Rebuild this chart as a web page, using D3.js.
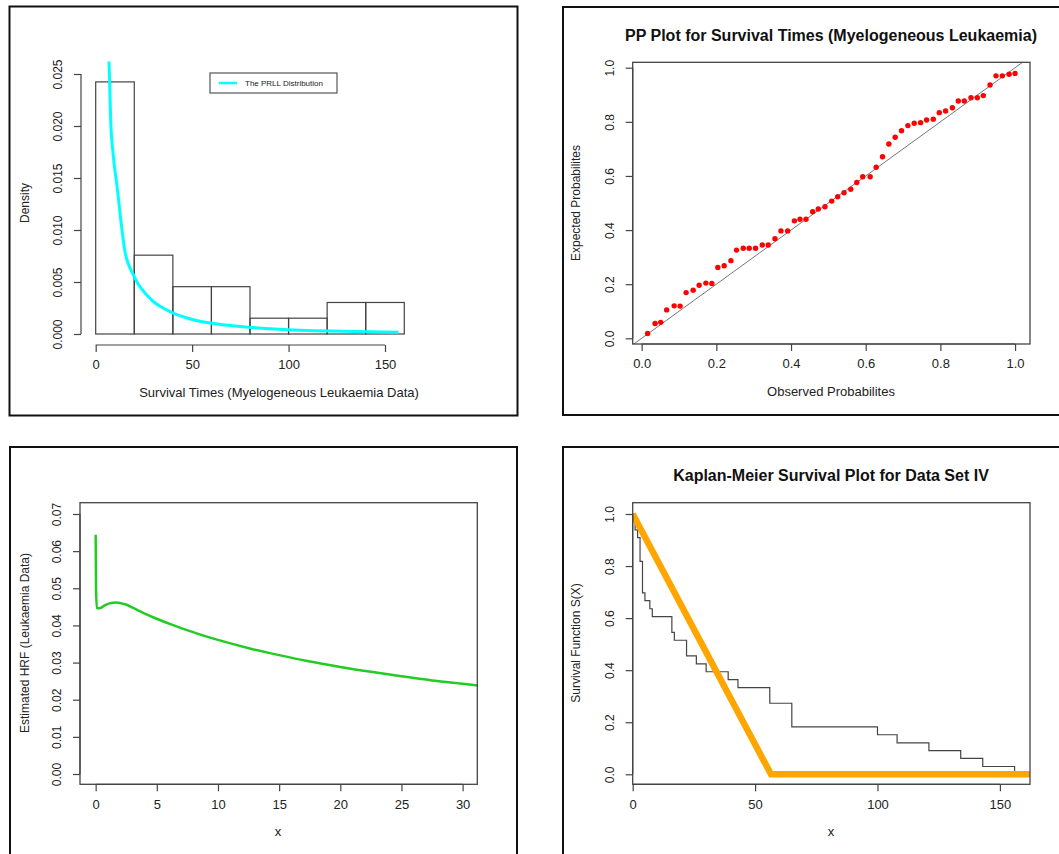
<!DOCTYPE html>
<html>
<head>
<meta charset="utf-8">
<script src="https://cdn.jsdelivr.net/npm/d3@7"></script>
<style>
  body { margin: 0; background: #fff; }
  svg { display: block; font-family: "Liberation Sans", Arial, sans-serif; }
  .tick text { fill: #222; }
</style>
</head>
<body>
<svg id="chart" width="1059" height="854"></svg>
<script>
// Panel 1: histogram of survival times with fitted PRLL density
const histBreaks = [0, 20, 40, 60, 80, 100, 120, 140, 160];
const histDensity = [0.02424, 0.00758, 0.00455, 0.00455, 0.00152, 0.00152, 0.00303, 0.00303];
const prllX = [6.9, 7.8, 9.1, 11.2, 13.5, 15.2, 17, 19.5, 22, 26.5, 30, 35, 40.2, 50, 61, 75, 90, 100, 115, 134, 157];
const prllY = [0.0262, 0.0204, 0.0172, 0.0140, 0.0102, 0.0079, 0.0067, 0.0057, 0.0048, 0.00375, 0.0031, 0.0025, 0.0020, 0.0014, 0.00100, 0.00072, 0.00050, 0.00040, 0.00031, 0.00024, 0.00018];
const histXTicks = [0, 50, 100, 150];
const histYTicks = [0, 0.005, 0.010, 0.015, 0.020, 0.025];

// Panel 2: PP plot
const ppObs = [0.016, 0.036, 0.051, 0.067, 0.087, 0.103, 0.119, 0.138, 0.154, 0.172, 0.188, 0.204, 0.221, 0.239, 0.254,
  0.272, 0.288, 0.305, 0.323, 0.339, 0.357, 0.373, 0.391, 0.409, 0.424, 0.440, 0.458, 0.473, 0.491, 0.509,
  0.525, 0.542, 0.560, 0.576, 0.592, 0.612, 0.628, 0.645, 0.662, 0.679, 0.696, 0.713, 0.730, 0.747, 0.763,
  0.781, 0.797, 0.814, 0.832, 0.848, 0.864, 0.882, 0.899, 0.915, 0.933, 0.949, 0.966, 0.984, 1.000];
const ppExp = [0.018, 0.055, 0.059, 0.105, 0.120, 0.119, 0.169, 0.178, 0.196, 0.204, 0.203, 0.262, 0.268, 0.287, 0.326,
  0.333, 0.333, 0.333, 0.345, 0.345, 0.368, 0.397, 0.397, 0.434, 0.440, 0.440, 0.468, 0.478, 0.486, 0.507,
  0.523, 0.538, 0.551, 0.576, 0.597, 0.597, 0.632, 0.671, 0.718, 0.743, 0.767, 0.786, 0.795, 0.797, 0.807,
  0.810, 0.834, 0.840, 0.852, 0.877, 0.877, 0.889, 0.889, 0.897, 0.936, 0.970, 0.970, 0.976, 0.979];
const ppTicks = [0, 0.2, 0.4, 0.6, 0.8, 1.0];

// Panel 3: estimated hazard rate function
const hrfX = [0, 0.01, 0.03, 0.1, 0.3, 0.7, 1.2, 1.7, 2.4, 3.5, 4.7, 6, 7.4, 8.7, 10, 12.6, 15, 17.3, 20, 22.5, 25, 27.5, 30, 31.5];
const hrfY = [0.0644, 0.0596, 0.0500, 0.0447, 0.0446, 0.0453, 0.0460, 0.0462, 0.0457, 0.0440, 0.0422, 0.0405, 0.0388,
  0.0374, 0.0361, 0.0338, 0.0320, 0.0304, 0.0288, 0.0275, 0.0263, 0.0252, 0.0243, 0.0237];
const hrfXTicks = [0, 5, 10, 15, 20, 25, 30];
const hrfYTicks = [0, 0.01, 0.02, 0.03, 0.04, 0.05, 0.06, 0.07];

// Panel 4: Kaplan-Meier estimate and fitted survival line
const kmTime = [0, 1, 2, 3, 4, 5, 7, 8, 16, 17, 22, 26, 30, 39, 43, 56, 65, 100, 108, 121, 134, 143, 156];
const kmSurv = [1, 0.939, 0.909, 0.818, 0.697, 0.667, 0.636, 0.606, 0.545, 0.515, 0.455, 0.424, 0.394, 0.364, 0.333,
  0.273, 0.182, 0.152, 0.121, 0.091, 0.061, 0.030, 0];
const fitTime = [0, 56.5, 162.3];
const fitSurv = [1, 0, 0];
const kmXTicks = [0, 50, 100, 150];
const kmYTicks = [0, 0.2, 0.4, 0.6, 0.8, 1.0];

const svg = d3.select('#chart');
const axisColor = '#444';

// Panel frames
const frames = [
    { x: 9.5, y: 6.5, w: 508, h: 409 },
    { x: 563, y: 7, w: 510, h: 408 },
    { x: 10, y: 447, w: 507, h: 420 },
    { x: 563, y: 447, w: 510, h: 420 }
];
svg.selectAll('.frame')
    .data(frames)
    .enter()
    .append('rect')
    .attr('class', 'frame')
    .attr('x', d => d.x)
    .attr('y', d => d.y)
    .attr('width', d => d.w)
    .attr('height', d => d.h)
    .attr('fill', 'none')
    .attr('stroke', '#111')
    .attr('stroke-width', 2);

// R-style bottom axis: line spans first..last tick
function bottomAxis(x, ticks, yPos, fmt) {
    const g = svg.append('g')
        .attr('transform', `translate(0, ${yPos})`)
        .call(d3.axisBottom(x).tickValues(ticks).tickSize(7).tickSizeOuter(0).tickPadding(8).tickFormat(fmt));
    g.select('.domain').attr('d', `M${x(ticks[0])},0H${x(ticks[ticks.length - 1])}`);
    g.selectAll('line, .domain').attr('stroke', axisColor).attr('stroke-width', 1.2);
    g.selectAll('text').attr('font-size', '13px');
    return g;
}

// R-style left axis with labels parallel to the axis
function leftAxis(y, ticks, xPos, fmt) {
    const g = svg.append('g')
        .attr('transform', `translate(${xPos}, 0)`)
        .call(d3.axisLeft(y).tickValues(ticks).tickSize(7).tickSizeOuter(0).tickFormat(fmt));
    g.select('.domain').attr('d', `M0,${y(ticks[0])}V${y(ticks[ticks.length - 1])}`);
    g.selectAll('line, .domain').attr('stroke', axisColor).attr('stroke-width', 1.2);
    g.selectAll('text')
        .attr('x', null)
        .attr('dy', null)
        .attr('text-anchor', 'middle')
        .attr('font-size', '12px')
        .attr('transform', 'translate(-19, 0) rotate(-90)');
    return g;
}

function xTitle(text, cx, cy) {
    svg.append('text')
        .attr('x', cx)
        .attr('y', cy)
        .attr('text-anchor', 'middle')
        .attr('font-size', '13px')
        .attr('fill', '#222')
        .text(text);
}

function yTitle(text, cx, cy) {
    svg.append('text')
        .attr('transform', `translate(${cx}, ${cy}) rotate(-90)`)
        .attr('text-anchor', 'middle')
        .attr('font-size', '12px')
        .attr('fill', '#222')
        .text(text);
}

function mainTitle(text, cx, cy) {
    svg.append('text')
        .attr('x', cx)
        .attr('y', cy)
        .attr('text-anchor', 'middle')
        .attr('font-size', '16px')
        .attr('font-weight', 'bold')
        .attr('fill', '#111')
        .text(text);
}

function plotBox(x0, y0, x1, y1) {
    svg.append('rect')
        .attr('x', x0)
        .attr('y', y0)
        .attr('width', x1 - x0)
        .attr('height', y1 - y0)
        .attr('fill', 'none')
        .attr('stroke', axisColor)
        .attr('stroke-width', 1.3);
}

function clip(id, x0, y0, x1, y1) {
    svg.append('clipPath').attr('id', id)
        .append('rect')
        .attr('x', x0).attr('y', y0)
        .attr('width', x1 - x0).attr('height', y1 - y0);
    return `url(#${id})`;
}

// ---------- Panel 1: histogram ----------
{
    const x = d3.scaleLinear().domain([0, 150]).range([95.7, 385]);
    const y = d3.scaleLinear().domain([0, 0.025]).range([334, 74]);

    const bins = histDensity.map((d, i) => ({ x0: histBreaks[i], x1: histBreaks[i + 1], density: d }));
    svg.selectAll('.hist-bar')
        .data(bins)
        .enter()
        .append('rect')
        .attr('class', 'hist-bar')
        .attr('x', d => x(d.x0))
        .attr('y', d => y(d.density))
        .attr('width', d => x(d.x1) - x(d.x0))
        .attr('height', d => y(0) - y(d.density))
        .attr('fill', 'none')
        .attr('stroke', axisColor)
        .attr('stroke-width', 1.2);

    const line = d3.line()
        .x((d, i) => x(prllX[i]))
        .y(d => y(d))
        .curve(d3.curveMonotoneX);
    svg.append('path')
        .attr('d', line(prllY))
        .attr('fill', 'none')
        .attr('stroke', '#00ffff')
        .attr('stroke-width', 3);

    bottomAxis(x, histXTicks, 345, d3.format('d'));
    leftAxis(y, histYTicks, 81, d3.format('.3f'));
    xTitle('Survival Times (Myelogeneous Leukaemia Data)', 279, 397);
    yTitle('Density', 29, 203);

    // Legend
    const legend = svg.append('g').attr('transform', 'translate(210, 73)');
    legend.append('rect')
        .attr('width', 127)
        .attr('height', 20)
        .attr('fill', '#fff')
        .attr('stroke', '#555')
        .attr('stroke-width', 1.2);
    legend.append('line')
        .attr('x1', 9).attr('x2', 27)
        .attr('y1', 10).attr('y2', 10)
        .attr('stroke', '#00ffff')
        .attr('stroke-width', 2.5);
    legend.append('text')
        .attr('x', 35)
        .attr('y', 13)
        .attr('font-size', '8px')
        .attr('fill', '#222')
        .text('The PRLL Distribution');
}

// ---------- Panel 2: PP plot ----------
{
    const x = d3.scaleLinear().domain([-0.024, 1.04]).range([632.7, 1030]);
    const y = d3.scaleLinear().domain([-0.021, 1.02]).range([344, 62.3]);
    const cp = clip('clip-pp', 632.7, 62.3, 1030, 344);

    svg.append('line')
        .attr('clip-path', cp)
        .attr('x1', x(-0.1)).attr('y1', y(-0.1))
        .attr('x2', x(1.1)).attr('y2', y(1.1))
        .attr('stroke', '#777')
        .attr('stroke-width', 1);

    svg.selectAll('.pp-point')
        .data(ppObs)
        .enter()
        .append('circle')
        .attr('class', 'pp-point')
        .attr('cx', d => x(d))
        .attr('cy', (d, i) => y(ppExp[i]))
        .attr('r', 2.7)
        .attr('fill', '#ff0000');

    plotBox(632.7, 62.3, 1030, 344);
    bottomAxis(x, ppTicks, 344, d3.format('.1f'));
    leftAxis(y, ppTicks, 632.7, d3.format('.1f'));
    mainTitle('PP Plot for Survival Times (Myelogeneous Leukaemia)', 831, 41);
    xTitle('Observed Probabilites', 831, 396);
    yTitle('Expected Probabilites', 580, 203);
}

// ---------- Panel 3: hazard rate ----------
{
    const x = d3.scaleLinear().domain([-1.28, 31.2]).range([80, 477.3]);
    const y = d3.scaleLinear().domain([0, 0.07]).range([774, 514]);
    const cp = clip('clip-hrf', 80, 502.7, 477.3, 784.3);

    const line = d3.line()
        .x((d, i) => x(hrfX[i]))
        .y(d => y(d))
        .curve(d3.curveMonotoneX);
    svg.append('path')
        .attr('clip-path', cp)
        .attr('d', line(hrfY))
        .attr('fill', 'none')
        .attr('stroke', '#22cc22')
        .attr('stroke-width', 2.5);

    plotBox(80, 502.7, 477.3, 784.3);
    bottomAxis(x, hrfXTicks, 784.3, d3.format('d'));
    leftAxis(y, hrfYTicks, 80, d3.format('.2f'));
    xTitle('x', 278, 836);
    yTitle('Estimated HRF (Leukaemia Data)', 29, 643);
}

// ---------- Panel 4: Kaplan-Meier ----------
{
    const x = d3.scaleLinear().domain([0, 162.3]).range([632.7, 1030]);
    const y = d3.scaleLinear().domain([0, 1]).range([774.3, 514]);
    const cp = clip('clip-km', 632.7, 502.7, 1030, 784.3);

    const km = d3.line()
        .x((d, i) => x(kmTime[i]))
        .y(d => y(d))
        .curve(d3.curveStepAfter);
    svg.append('path')
        .attr('clip-path', cp)
        .attr('d', km(kmSurv))
        .attr('fill', 'none')
        .attr('stroke', '#444')
        .attr('stroke-width', 1.2);

    const fit = d3.line()
        .x((d, i) => x(fitTime[i]))
        .y(d => y(d));
    svg.append('path')
        .attr('clip-path', cp)
        .attr('d', fit(fitSurv))
        .attr('fill', 'none')
        .attr('stroke', '#ffa500')
        .attr('stroke-width', 6.5);

    plotBox(632.7, 502.7, 1030, 784.3);
    bottomAxis(x, kmXTicks, 784.3, d3.format('d'));
    leftAxis(y, kmYTicks, 632.7, d3.format('.1f'));
    mainTitle('Kaplan-Meier Survival Plot for Data Set IV', 831, 481);
    xTitle('x', 831, 836);
    yTitle('Survival Function S(X)', 580, 643);
}
</script>
</body>
</html>
